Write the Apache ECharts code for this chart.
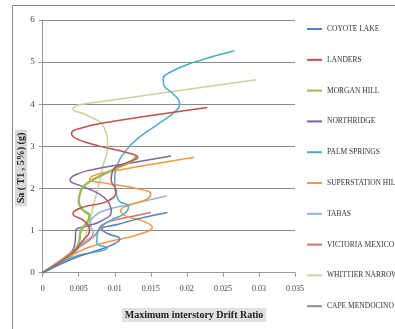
<!DOCTYPE html>
<html>
<head>
<meta charset="utf-8">
<script src="https://cdn.jsdelivr.net/npm/echarts@6/dist/echarts.min.js"></script>
<style>
  html, body { margin: 0; padding: 0; background: #fff; }
  #chart { width: 395px; height: 329px; }
</style>
</head>
<body>
<div id="chart"></div>
<script>
// 地震记录名称
const quakeNames = ['COYOTE LAKE', 'LANDERS', 'MORGAN HILL', 'NORTHRIDGE', 'PALM SPRINGS',
  'SUPERSTATION HILL', 'TABAS', 'VICTORIA MEXICO', 'WHITTIER NARROWS', 'CAPE MENDOCINO'];
const quakeColors = ['#4F81BD', '#C0504D', '#9BBB59', '#8064A2', '#4BACC6',
  '#F79646', '#95B3D7', '#DA706D', '#C3D69B', '#8C8C8C'];

// 每条 IDA 曲线: [层间位移角, Sa]
const coyoteLake = [[0, 0], [0.004, 0.32], [0.007, 0.5], [0.0095, 0.65], [0.0107, 0.8],
  [0.009, 0.93], [0.0082, 1.03], [0.0105, 1.15], [0.0135, 1.29], [0.0173, 1.43]];
const landers = [[0, 0], [0.004, 0.45], [0.0055, 0.75], [0.0065, 1.0], [0.0058, 1.22],
  [0.0042, 1.4], [0.0055, 1.55], [0.009, 1.7], [0.0102, 1.95], [0.0095, 2.2], [0.0098, 2.45],
  [0.0115, 2.6], [0.0132, 2.74], [0.0115, 2.86], [0.008, 3.0], [0.0048, 3.17], [0.004, 3.31],
  [0.0055, 3.44], [0.009, 3.57], [0.015, 3.73], [0.0228, 3.92]];
const morganHill = [[0, 0], [0.0035, 0.4], [0.005, 0.7], [0.0053, 1.0], [0.0062, 1.2],
  [0.0065, 1.35], [0.0055, 1.5], [0.005, 1.7], [0.0052, 1.9], [0.006, 2.1], [0.008, 2.3],
  [0.0105, 2.5], [0.0125, 2.67], [0.013, 2.8]];
const northridge = [[0, 0], [0.004, 0.5], [0.0045, 0.75], [0.0046, 1.0], [0.006, 1.1],
  [0.008, 1.22], [0.0095, 1.45], [0.009, 1.7], [0.0075, 1.9], [0.0055, 2.05], [0.0038, 2.2],
  [0.0045, 2.32], [0.007, 2.45], [0.012, 2.6], [0.0178, 2.77]];
const palmSprings = [[0, 0], [0.0042, 0.37], [0.0075, 0.5], [0.0089, 0.58], [0.0075, 0.72],
  [0.0077, 1.0], [0.0095, 1.25], [0.0114, 1.41], [0.0119, 1.57], [0.0105, 1.73], [0.01, 2.2],
  [0.0103, 2.52], [0.0116, 2.91], [0.0135, 3.23], [0.0162, 3.55], [0.0186, 3.86], [0.019, 4.0],
  [0.0181, 4.25], [0.0168, 4.45], [0.0167, 4.6], [0.0177, 4.76], [0.0205, 4.97], [0.0266, 5.27]];
const superstationHill = [[0, 0], [0.005, 0.5], [0.0075, 0.66], [0.01, 0.77], [0.0135, 0.92],
  [0.0152, 1.08], [0.014, 1.22], [0.0115, 1.35], [0.0108, 1.48], [0.012, 1.6], [0.0145, 1.75],
  [0.015, 1.86], [0.013, 2.0], [0.009, 2.12], [0.0065, 2.22], [0.0075, 2.33], [0.011, 2.45],
  [0.016, 2.6], [0.021, 2.74]];
const tabas = [[0, 0], [0.004, 0.4], [0.0055, 0.7], [0.007, 0.95], [0.0066, 1.15],
  [0.0072, 1.35], [0.009, 1.5], [0.012, 1.62], [0.0172, 1.82]];
const victoriaMexico = [[0, 0], [0.005, 0.6], [0.007, 0.85], [0.008, 1.05], [0.009, 1.2],
  [0.012, 1.32], [0.015, 1.43]];
const whittierNarrows = [[0, 0], [0.0045, 0.5], [0.006, 0.9], [0.0066, 1.3], [0.0072, 1.7],
  [0.0078, 2.1], [0.0083, 2.5], [0.009, 3.0], [0.0085, 3.45], [0.006, 3.75], [0.0042, 3.88],
  [0.005, 3.98], [0.008, 4.06], [0.0296, 4.58]];
const capeMendocino = [[0, 0], [0.004, 0.45]];

const allCurves = [coyoteLake, landers, morganHill, northridge, palmSprings,
  superstationHill, tabas, victoriaMexico, whittierNarrows, capeMendocino];

const chartInstance = echarts.init(document.getElementById('chart'));
const serifFont = '"Liberation Serif", "DejaVu Serif", serif';

const option = {
  animation: false,
  backgroundColor: '#fff',
  grid: { left: 42.7, right: 100, top: 20, bottom: 56.3 },
  xAxis: {
    type: 'value',
    min: 0,
    max: 0.035,
    interval: 0.005,
    axisLine: { show: true, lineStyle: { color: '#999', width: 1 } },
    axisTick: { show: true, length: 4, lineStyle: { color: '#999' } },
    axisLabel: { color: '#444', fontFamily: serifFont, fontSize: 8, margin: 12 },
    splitLine: { show: false }
  },
  yAxis: {
    type: 'value',
    min: 0,
    max: 6,
    interval: 1,
    axisLine: { show: true, lineStyle: { color: '#999', width: 1 } },
    axisTick: { show: true, length: 4, lineStyle: { color: '#999' } },
    axisLabel: { color: '#444', fontFamily: serifFont, fontSize: 9, margin: 8 },
    splitLine: { show: true, lineStyle: { color: '#8a8a8a', width: 1 } }
  },
  legend: {
    orient: 'vertical',
    left: 302,
    top: 19,
    itemWidth: 15,
    itemHeight: 2,
    itemGap: 20.8,
    icon: 'rect',
    textStyle: { fontFamily: serifFont, fontSize: 7.5, color: '#333', lineHeight: 10 },
    data: quakeNames
  },
  graphic: [
    {
      type: 'rect',
      shape: { x: 12.5, y: 5.5, width: 400, height: 400 },
      style: { fill: 'none', stroke: '#888', lineWidth: 1 },
      silent: true
    },
    {
      type: 'text',
      x: 21,
      y: 168,
      rotation: Math.PI / 2,
      style: {
        text: 'Sa ( T1 , 5%) (g)',
        font: 'bold 10px ' + serifFont,
        fill: '#222',
        align: 'center',
        verticalAlign: 'middle',
        backgroundColor: '#d9d9d9',
        padding: [1, 3]
      }
    },
    {
      type: 'text',
      x: 194,
      y: 315,
      style: {
        text: 'Maximum interstory Drift Ratio',
        font: 'bold 10px ' + serifFont,
        fill: '#222',
        align: 'center',
        verticalAlign: 'middle',
        backgroundColor: '#e0e0e0',
        padding: [2, 3]
      }
    }
  ],
  series: quakeNames.map((name, i) => ({
    name: name,
    type: 'line',
    data: allCurves[i],
    smooth: 0.5,
    showSymbol: false,
    symbol: 'none',
    color: quakeColors[i],
    lineStyle: { width: i === 2 ? 2.5 : 1.5, color: quakeColors[i] },
    z: 10 - i
  }))
};
chartInstance.setOption(option);
</script>
</body>
</html>
